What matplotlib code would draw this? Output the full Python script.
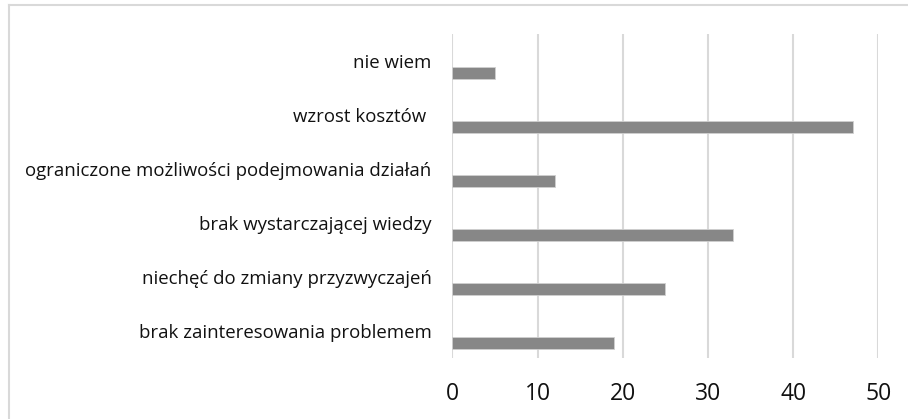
import matplotlib.pyplot as plt
from matplotlib.lines import Line2D

# data (top to bottom as shown)
categories = ["nie wiem", "wzrost kosztów ", "ograniczone możliwości podejmowania działań",
              "brak wystarczającej wiedzy", "niechęć do zmiany przyzwyczajeń",
              "brak zainteresowania problemem"]
values = [5, 47, 12, 33, 25, 19]
xticks = [0, 10, 20, 30, 40, 50]

plt.rcParams['font.family'] = ['Open Sans', 'DejaVu Sans']

fig = plt.figure(figsize=(9.08, 4.19), dpi=100)
ax = fig.add_axes([452.3 / 908, 1 - 358 / 419, (878.3 - 452.3) / 908, (358 - 34) / 419])

n = len(categories)
ypos = list(range(n - 1, -1, -1))
# bars sit in the lower part of each category band (second series empty)
ax.barh([y - 0.22 for y in ypos], values, height=0.21, color='#878787',
        edgecolor='#d0d0d0', linewidth=0.6, zorder=3)

ax.set_xlim(0, 50)
ax.set_ylim(-0.5, n - 0.5)
ax.set_xticks(xticks)
ax.set_xticklabels([str(t) for t in xticks], fontsize=16.5, color='#111111')
ax.set_yticks(ypos)
ax.set_yticklabels(categories, fontsize=13.4, color='#111111')
ax.tick_params(axis='y', length=0, pad=15)
ax.tick_params(axis='x', length=0, pad=17)

ax.grid(axis='x', color='#d9d9d9', linewidth=1.5, zorder=0)
ax.grid(axis='y', visible=False)
for s in ax.spines.values():
    s.set_visible(False)

# chart frame (left and top edges)
fig.add_artist(Line2D([8.5 / 908, 8.5 / 908], [0, 1 - 5 / 419], transform=fig.transFigure,
                      color='#d9d9d9', linewidth=1.5))
fig.add_artist(Line2D([8.5 / 908, 1], [1 - 5 / 419, 1 - 5 / 419], transform=fig.transFigure,
                      color='#d9d9d9', linewidth=1.5))

fig.savefig('out.png', dpi=100)
